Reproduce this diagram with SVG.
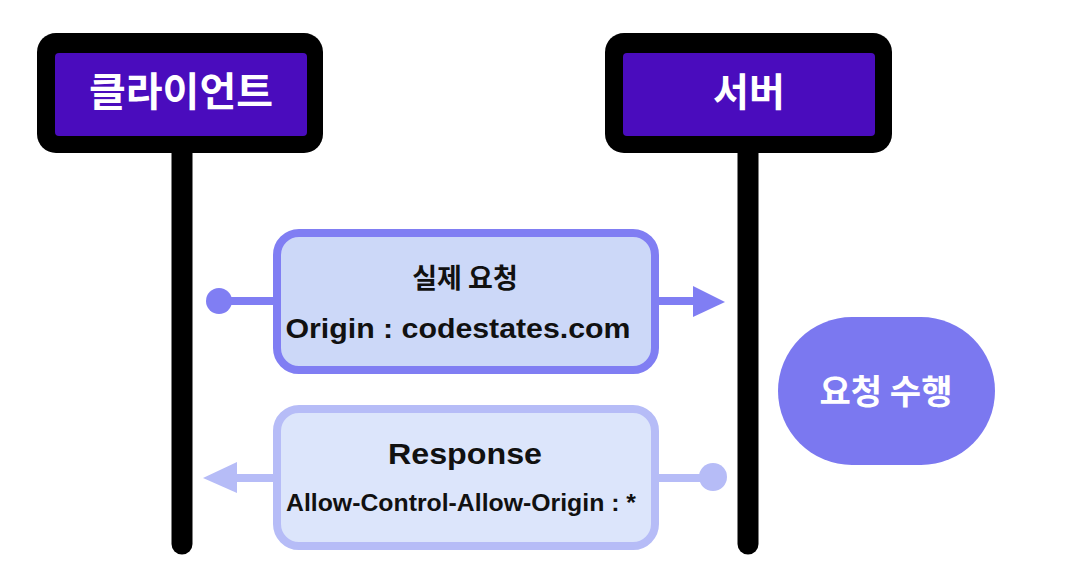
<svg xmlns="http://www.w3.org/2000/svg" width="1076" height="576" viewBox="0 0 1076 576">
<style>
.outer{fill:#000000;}
.inner{fill:#4a0cbd;}
.title{font-family:"Noto Sans CJK KR","Noto Sans",sans-serif;font-weight:700;fill:#ffffff;text-anchor:middle;}
.lifeline{stroke:#000000;stroke-width:21;stroke-linecap:round;fill:none;}
.req{fill:#ccd8f8;stroke:#807ef3;stroke-width:8;}
.res{fill:#dce5fb;stroke:#b6bcf7;stroke-width:8;}
.lbl{font-family:"Liberation Sans","Noto Sans CJK KR",sans-serif;font-weight:700;fill:#111111;text-anchor:middle;}
.kr{font-family:"Noto Sans CJK KR","Liberation Sans",sans-serif;font-weight:700;fill:#111111;text-anchor:middle;}
.creq{stroke:#807ef3;stroke-width:8;fill:none;}
.cres{stroke:#b6bcf7;stroke-width:8;fill:none;}
</style>
<rect width="1076" height="576" fill="#ffffff"/>
<g id="connectors">
  <line class="lifeline" x1="182" y1="150" x2="182" y2="544"/>
  <line class="lifeline" x1="748" y1="150" x2="748" y2="544"/>
  <circle cx="219" cy="301" r="13" fill="#807ef3"/>
  <line class="creq" x1="219" y1="301" x2="274" y2="301"/>
  <line class="creq" x1="658" y1="301" x2="696" y2="301"/>
  <polygon points="693,286 725,302 693,317" fill="#807ef3"/>
  <circle cx="713" cy="477" r="14" fill="#b6bcf7"/>
  <line class="cres" x1="656" y1="478" x2="713" y2="478"/>
  <line class="cres" x1="232" y1="478" x2="274" y2="478"/>
  <polygon points="237,462 203,478 237,493" fill="#b6bcf7"/>
</g>
<g id="client">
  <rect class="outer" x="37" y="33" width="286" height="120" rx="19"/>
  <rect class="inner" x="55" y="53" width="252" height="83" rx="4"/>
  <text class="title" x="181" y="106" font-size="40">클라이언트</text>
</g>
<g id="server">
  <rect class="outer" x="605" y="33" width="287" height="120" rx="19"/>
  <rect class="inner" x="623" y="53" width="252" height="83" rx="4"/>
  <text class="title" x="749" y="106" font-size="39">서버</text>
</g>
<g id="request">
  <rect class="req" x="277" y="233" width="378" height="137" rx="22"/>
  <text class="kr" x="465" y="288" font-size="27">실제 요청</text>
  <text class="lbl" x="458" y="338" font-size="28" textLength="345" lengthAdjust="spacingAndGlyphs">Origin : codestates.com</text>
</g>
<g id="response">
  <rect class="res" x="277" y="409" width="378" height="137" rx="22"/>
  <text class="lbl" x="465" y="464" font-size="30" textLength="154" lengthAdjust="spacingAndGlyphs">Response</text>
  <text class="lbl" x="461" y="511" font-size="23" textLength="350" lengthAdjust="spacingAndGlyphs">Allow-Control-Allow-Origin : *</text>
</g>
<g id="process">
  <rect x="778" y="317" width="217" height="148" rx="74" fill="#7b78f0"/>
  <text class="title" x="886" y="404" font-size="34">요청 수행</text>
</g>
</svg>
